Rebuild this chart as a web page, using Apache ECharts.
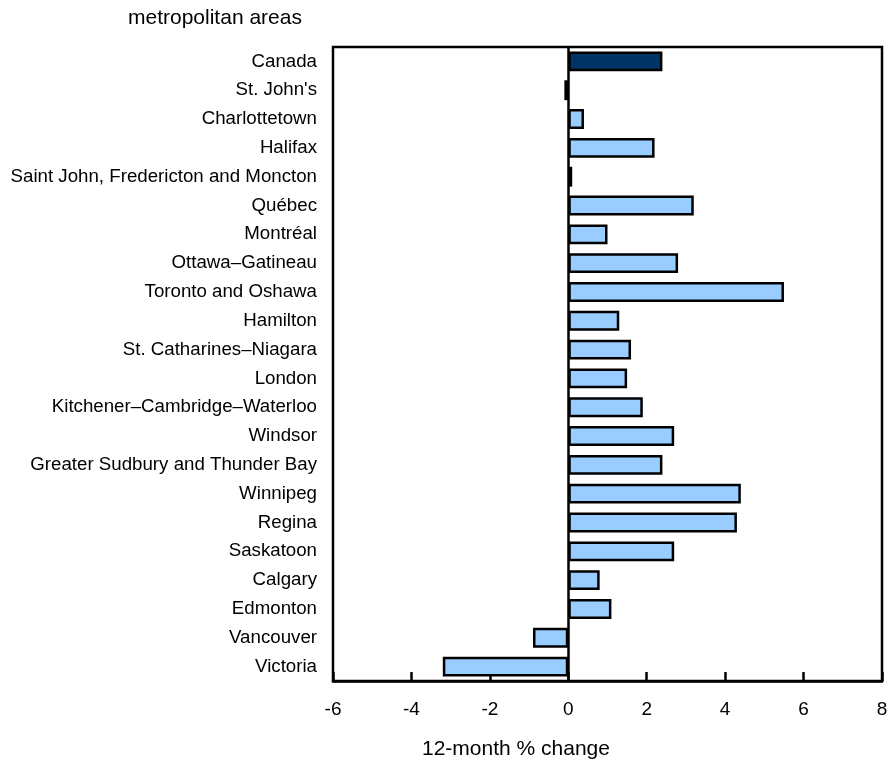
<!DOCTYPE html>
<html>
<head>
<meta charset="utf-8">
<script src="https://cdn.jsdelivr.net/npm/echarts@6/dist/echarts.min.js"></script>
<style>html,body{margin:0;padding:0;background:#fff}#c{width:892px;height:759px}</style>
</head>
<body>
<div id="c"></div>
<script>
const categories = ["Canada","St. John's","Charlottetown","Halifax","Saint John, Fredericton and Moncton","Québec","Montréal","Ottawa–Gatineau","Toronto and Oshawa","Hamilton","St. Catharines–Niagara","London","Kitchener–Cambridge–Waterloo","Windsor","Greater Sudbury and Thunder Bay","Winnipeg","Regina","Saskatoon","Calgary","Edmonton","Vancouver","Victoria"];
const values = [2.4,-0.1,0.4,2.2,0.1,3.2,1.0,2.8,5.5,1.3,1.6,1.5,1.9,2.7,2.4,4.4,4.3,2.7,0.8,1.1,-0.9,-3.2];
const xTicks = [-6,-4,-2,0,2,4,6,8];
const highlight = "Canada";

const FONT = "Liberation Sans, Arial, Helvetica, sans-serif";
const chart = echarts.init(document.getElementById('c'), null, {renderer:'canvas'});
chart.setOption({
  animation:false,
  title:[
    {text:"metropolitan areas", left:123, top:3, textStyle:{fontFamily:FONT,fontSize:21,fontWeight:'normal',color:'#000'}},
    {text:"12-month % change", left:417, top:734, textStyle:{fontFamily:FONT,fontSize:21,fontWeight:'normal',color:'#000'}}
  ],
  grid:{left:333,right:10,top:47,bottom:78,show:true,borderColor:'#000',borderWidth:2.5,backgroundColor:'transparent'},
  xAxis:{type:'value',min:xTicks[0],max:xTicks[xTicks.length-1],interval:2,
    axisLine:{show:true,lineStyle:{color:'#000',width:2.5}},
    axisTick:{show:true,inside:true,length:9,lineStyle:{color:'#000',width:2.5}},
    axisLabel:{color:'#000',fontSize:19,fontFamily:FONT,margin:19},
    splitLine:{show:false}},
  yAxis:{type:'category',data:categories,inverse:true,
    axisLine:{show:false,onZero:false},axisTick:{show:false},
    axisLabel:{color:'#000',fontSize:18.7,fontFamily:FONT,margin:16}},
  series:[{type:'bar',barCategoryGap:'31%',
    data:values.map((v,i)=>({value:v,itemStyle:{color: categories[i]===highlight?'#003366':'#99ccff'}})),
    itemStyle:{borderColor:'#000',borderWidth:2.5},
    markLine:{silent:true,symbol:'none',label:{show:false},lineStyle:{color:'#000',width:2.5,type:'solid'},data:[{xAxis:0}]}
  }]
});
</script>
</body>
</html>
